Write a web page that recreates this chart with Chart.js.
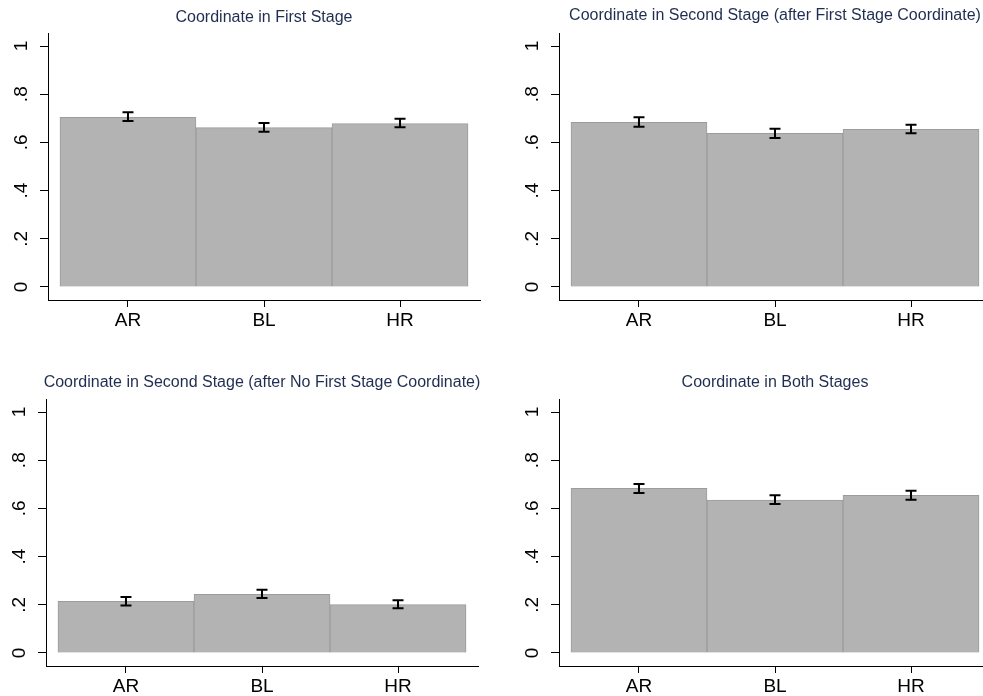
<!DOCTYPE html>
<html>
<head>
<meta charset="utf-8">
<script src="https://cdn.jsdelivr.net/npm/chart.js@4/dist/chart.umd.min.js"></script>
<style>
  body { margin: 0; background: #fff; width: 983px; height: 696px; overflow: hidden; position: relative; }
  canvas { position: absolute; }
</style>
</head>
<body>
<canvas id="p1" width="500" height="340" style="left:0px;top:0px"></canvas>
<canvas id="p2" width="500" height="340" style="left:511px;top:0px"></canvas>
<canvas id="p3" width="500" height="340" style="left:-2px;top:366px"></canvas>
<canvas id="p4" width="500" height="340" style="left:511px;top:366px"></canvas>
<script>
const categories = ["AR", "BL", "HR"];
const yTicks = [0, 0.2, 0.4, 0.6, 0.8, 1];

const titles = [
    "Coordinate in First Stage",
    "Coordinate in Second Stage (after First Stage Coordinate)",
    "Coordinate in Second Stage (after No First Stage Coordinate)",
    "Coordinate in Both Stages"
];

// means and 95% CI bounds per panel
const firstStage = [0.704, 0.661, 0.678];
const firstStageLo = [0.689, 0.644, 0.663];
const firstStageHi = [0.725, 0.680, 0.698];

const secondAfterCoord = [0.683, 0.638, 0.654];
const secondAfterCoordLo = [0.665, 0.618, 0.638];
const secondAfterCoordHi = [0.704, 0.657, 0.673];

const secondAfterNo = [0.214, 0.243, 0.201];
const secondAfterNoLo = [0.197, 0.228, 0.186];
const secondAfterNoHi = [0.232, 0.262, 0.219];

const bothStages = [0.683, 0.635, 0.654];
const bothStagesLo = [0.664, 0.618, 0.636];
const bothStagesHi = [0.701, 0.655, 0.673];

const panels = [
    { id: "p1", title: titles[0], values: firstStage, lo: firstStageLo, hi: firstStageHi, titleY: 18 },
    { id: "p2", title: titles[1], values: secondAfterCoord, lo: secondAfterCoordLo, hi: secondAfterCoordHi, titleY: 16 },
    { id: "p3", title: titles[2], values: secondAfterNo, lo: secondAfterNoLo, hi: secondAfterNoHi, titleY: 17 },
    { id: "p4", title: titles[3], values: bothStages, lo: bothStagesLo, hi: bothStagesHi, titleY: 17 }
];

const errorBars = {
    id: "errorBars",
    afterDatasetsDraw(chart, args, opts) {
        const ctx = chart.ctx;
        const x = chart.scales.x, y = chart.scales.y;
        ctx.save();
        ctx.strokeStyle = "#000";
        ctx.lineWidth = 2;
        opts.lo.forEach((lo, i) => {
            const px = x.getPixelForValue(i + 1);
            const yl = y.getPixelForValue(lo);
            const yh = y.getPixelForValue(opts.hi[i]);
            ctx.beginPath();
            ctx.moveTo(px, yl); ctx.lineTo(px, yh);
            ctx.moveTo(px - 5.5, yl); ctx.lineTo(px + 5.5, yl);
            ctx.moveTo(px - 5.5, yh); ctx.lineTo(px + 5.5, yh);
            ctx.stroke();
        });
        ctx.restore();
    }
};

const panelTitle = {
    id: "panelTitle",
    afterDraw(chart, args, opts) {
        const ctx = chart.ctx;
        ctx.save();
        ctx.font = "16px 'Liberation Sans', Arial, sans-serif";
        ctx.fillStyle = "#1f2d50";
        ctx.textAlign = "center";
        ctx.textBaseline = "middle";
        ctx.fillText(opts.text, chart.scales.x.getPixelForValue(2), opts.y);
        ctx.restore();
    }
};

panels.forEach(p => {
    new Chart(document.getElementById(p.id).getContext("2d"), {
        type: "bar",
        data: {
            datasets: [{
                data: p.values.map((v, i) => ({ x: i + 1, y: v })),
                backgroundColor: "#b3b3b3",
                borderColor: "#9c9c9c",
                borderWidth: 1,
                barPercentage: 1,
                categoryPercentage: 1
            }]
        },
        options: {
            responsive: false,
            animation: false,
            layout: { padding: { top: 33, right: 20, bottom: 10, left: 0 } },
            plugins: {
                legend: { display: false },
                tooltip: { enabled: false },
                errorBars: { lo: p.lo, hi: p.hi },
                panelTitle: { text: p.title, y: p.titleY }
            },
            scales: {
                x: {
                    type: "linear",
                    offset: false,
                    min: 0.412,
                    max: 3.588,
                    afterBuildTicks: s => { s.ticks = categories.map((c, i) => ({ value: i + 1 })); },
                    afterFit: s => { s.height = 30; },
                    ticks: {
                        callback: v => categories[v - 1],
                        font: { family: "'Liberation Sans', Arial, sans-serif", size: 19 },
                        color: "#000",
                        padding: 2,
                        maxRotation: 0,
                        autoSkip: false
                    },
                    grid: { offset: false, drawOnChartArea: false, tickLength: 7, color: "#000" },
                    border: { color: "#000", width: 1 }
                },
                y: {
                    min: -0.054,
                    max: 1.054,
                    afterBuildTicks: s => { s.ticks = yTicks.map(v => ({ value: v })); },
                    afterFit: s => { s.width = 48; },
                    ticks: {
                        callback: v => v === 0 ? "0" : v === 1 ? "1" : String(v).replace(/^0/, ""),
                        font: { family: "'Liberation Sans', Arial, sans-serif", size: 19 },
                        color: "#000",
                        minRotation: 90,
                        maxRotation: 90,
                        crossAlign: "center",
                        padding: 10,
                        autoSkip: false
                    },
                    grid: { drawOnChartArea: false, tickLength: 8, color: "#000" },
                    border: { color: "#000", width: 1 }
                }
            }
        },
        plugins: [errorBars, panelTitle]
    });
});
</script>
</body>
</html>
